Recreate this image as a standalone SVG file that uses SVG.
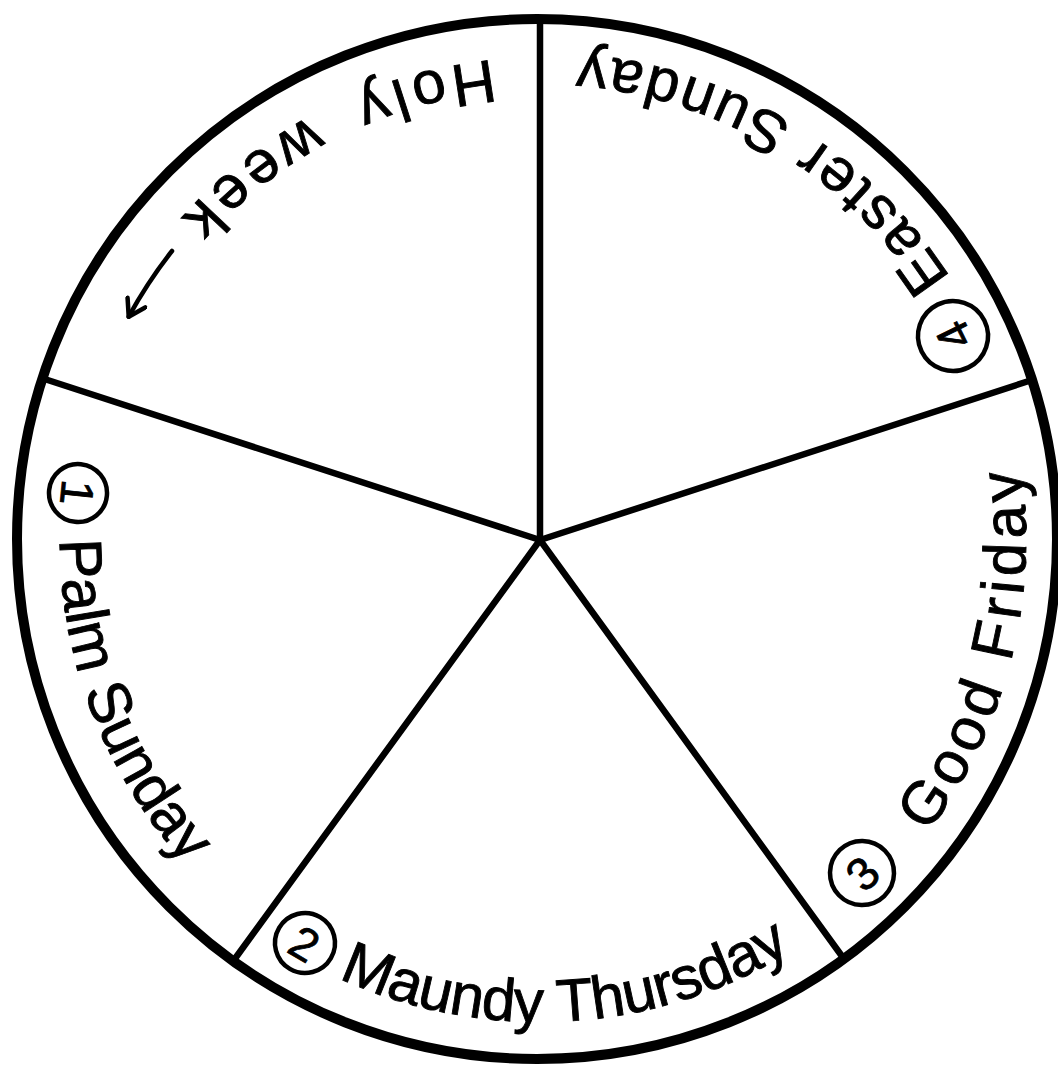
<svg xmlns="http://www.w3.org/2000/svg" width="1058" height="1065" viewBox="0 0 1058 1065">
  <style>
    .rim { fill: none; stroke: #000; stroke-width: 10; }
    .spoke { fill: none; stroke: #000; stroke-width: 6.5; stroke-linecap: round; }
    .lbl { font-family: "Liberation Sans", "DejaVu Sans", sans-serif; font-size: 60px; fill: #000; stroke: #000; stroke-width: 0.9; }
    .ring { fill: none; stroke: #000; stroke-width: 4.5; }
    .digit { font-family: "Liberation Sans", "DejaVu Sans", sans-serif; font-size: 46px; fill: #000; stroke: #000; stroke-width: 0.8; text-anchor: middle; dominant-baseline: central; }
    .arrow { fill: none; stroke: #000; stroke-width: 4.5; stroke-linecap: round; stroke-linejoin: round; }
  </style>
  <defs>
    <path id="p-palm" d="M 66.7 460.0 A 480 480 0 0 0 300 955.7"/>
    <path id="p-maundy" d="M 269.8 939.1 A 482 482 0 0 0 849.8 909.2"/>
    <path id="p-good" d="M 853.7 911.2 A 486 486 0 0 0 996.7 373.8"/>
    <path id="p-easter" d="M 990.5 355.7 A 488 488 0 0 0 455.3 59.4"/>
    <path id="p-holy" d="M 492.1 60.4 A 482 482 0 0 0 122.6 299"/>
    <marker id="open-head" viewBox="0 0 24 24" refX="19" refY="12" markerWidth="24" markerHeight="24" markerUnits="userSpaceOnUse" orient="auto">
      <polyline points="3,2 19,12 3,22" fill="none" stroke="#000" stroke-width="4.5" stroke-linecap="round" stroke-linejoin="round"/>
    </marker>
  </defs>
  <rect width="1058" height="1065" fill="#fff"/>

  <g id="wheel">
    <circle class="rim" cx="537" cy="539" r="520"/>
  </g>

  <g id="connectors">
    <line class="spoke" x1="540" y1="540" x2="540" y2="19"/>
    <line class="spoke" x1="540" y1="540" x2="1032" y2="380"/>
    <line class="spoke" x1="540" y1="540" x2="844" y2="959"/>
    <line class="spoke" x1="540" y1="540" x2="234" y2="960"/>
    <line class="spoke" x1="540" y1="540" x2="43" y2="378.5"/>
  </g>

  <g id="palm-sunday">
    <g transform="translate(78 493) rotate(95.8)">
      <circle class="ring" r="29"/>
      <text class="digit" x="0" y="1">1</text>
    </g>
    <text class="lbl"><textPath href="#p-palm" startOffset="80">Palm Sunday</textPath></text>
  </g>

  <g id="maundy-thursday">
    <g transform="translate(305 943) rotate(30.3)">
      <circle class="ring" r="30"/>
      <text class="digit" x="0" y="1">2</text>
    </g>
    <text class="lbl" font-size="58" letter-spacing="-0.5"><textPath href="#p-maundy" startOffset="79">Maundy Thursday</textPath></text>
  </g>

  <g id="good-friday">
    <g transform="translate(862 873) rotate(-44)">
      <circle class="ring" r="32"/>
      <text class="digit" x="0" y="1">3</text>
    </g>
    <text class="lbl" letter-spacing="5.5"><textPath href="#p-good" startOffset="108">Good Friday</textPath></text>
  </g>

  <g id="easter-sunday">
    <g transform="translate(953 336) rotate(-116.3)">
      <circle class="ring" r="35"/>
      <text class="digit" x="0" y="1">4</text>
    </g>
    <text class="lbl" letter-spacing="4.6"><textPath href="#p-easter" startOffset="88">Easter Sunday</textPath></text>
  </g>

  <g id="holy-week">
    <text class="lbl" letter-spacing="8" word-spacing="16"><textPath href="#p-holy">Holy week</textPath></text>
    <path class="arrow" d="M 172 251 A 468 468 0 0 0 128.7 316.7" marker-end="url(#open-head)"/>
  </g>
</svg>
